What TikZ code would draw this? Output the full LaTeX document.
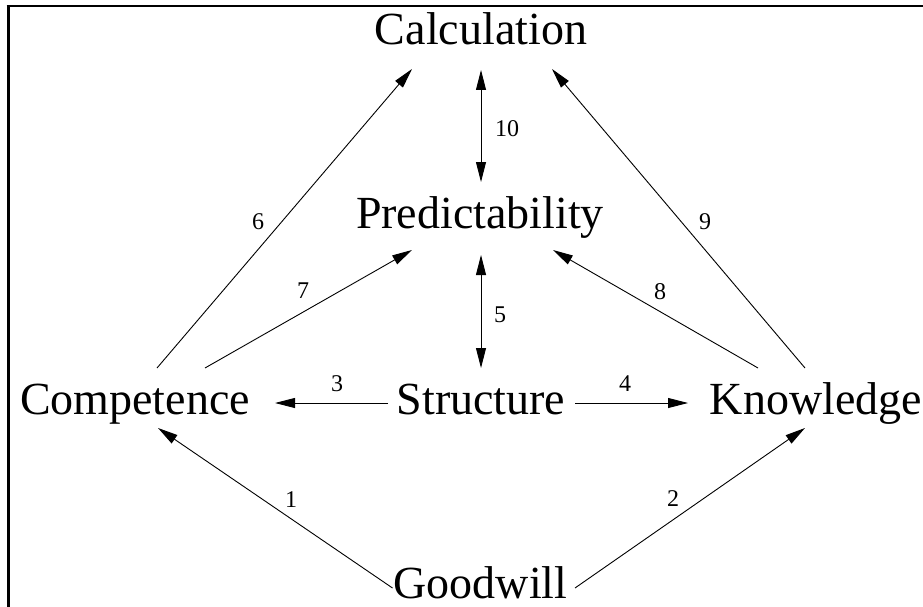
\documentclass[tikz,border=0pt]{standalone}
\usepackage{fontspec}
\setmainfont{Liberation Serif}
\usetikzlibrary{arrows.meta}
\tikzset{
  concept/.style={anchor=base, inner sep=0pt, font=\fontsize{46}{46}\selectfont},
  num/.style={inner sep=0pt, font=\fontsize{24}{24}\selectfont},
  link/.style={line width=0.9pt, -{Triangle[length=20pt,width=10pt]}},
  dlink/.style={line width=0.9pt, {Triangle[length=20pt,width=10pt]}-{Triangle[length=20pt,width=10pt]}},
  frame/.style={draw=black}
}
\begin{document}
\begin{tikzpicture}[x=1pt,y=-1pt]
\useasboundingbox (0,0) rectangle (923,607);
% frame (top and left only)
\draw[line width=3.3pt] (8.3,607) -- (8.3,4.7);
\draw[line width=2.3pt] (6.65,5.8) -- (923,5.8);

\node[concept] (calc) at (481,45) {Calculation};
\node[concept] (pred) at (480,228) {Predictability};
\node[concept] (struc) at (481,414) {Structure};
\node[concept] (comp) at (135,414) {Competence};
\node[concept] (know) at (816,414) {Knowledge};
\node[concept] (good) at (480.5,598) {Goodwill};

% connectors
\draw[link] ([shift={(-88,-10)}]good.base) -- ([shift={(23,14)}]comp.base);
\draw[link] ([shift={(94.5,-10)}]good.base) -- ([shift={(-11,14)}]know.base);
\draw[link] ([shift={(-93,-11)}]struc.base) -- ([shift={(140,-11)}]comp.base);
\draw[link] ([shift={(94,-11)}]struc.base) -- ([shift={(-128,-11)}]know.base);
\draw[dlink] ([shift={(0,-46)}]struc.base) -- ([shift={(1,27)}]pred.base);
\draw[link] ([shift={(22,-46)}]comp.base) -- ([shift={(-69,24)}]calc.base);
\draw[link] ([shift={(70,-46)}]comp.base) -- ([shift={(-68,22)}]pred.base);
\draw[link] ([shift={(-58,-46)}]know.base) -- ([shift={(73,22)}]pred.base);
\draw[link] ([shift={(-11,-46)}]know.base) -- ([shift={(71,24)}]calc.base);
\draw[dlink] ([shift={(0,25)}]calc.base) -- ([shift={(1,-46)}]pred.base);

% connector labels
\node[num] (l1) at (291,500) {1};
\node[num] (l2) at (673,499) {2};
\node[num] (l3) at (337,384) {3};
\node[num] (l4) at (625,384) {4};
\node[num] (l5) at (500,315) {5};
\node[num] (l6) at (258,222) {6};
\node[num] (l7) at (303,291) {7};
\node[num] (l8) at (660,292) {8};
\node[num] (l9) at (705,222) {9};
\node[num] (l10) at (507,129) {10};
\end{tikzpicture}
\end{document}
